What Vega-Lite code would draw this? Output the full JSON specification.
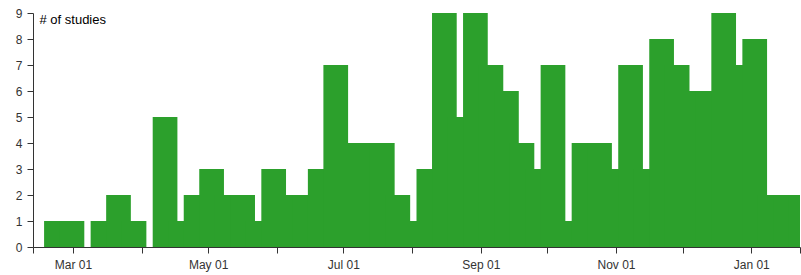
{
  "$schema": "https://vega.github.io/schema/vega-lite/v6.json",
  "width": 767,
  "height": 234,
  "autosize": {"type": "none"},
  "padding": {"left": 33, "top": 13, "right": 1, "bottom": 28},
  "background": "white",
  "config": {
    "view": {"stroke": null},
    "font": "Liberation Sans",
    "axis": {
      "labelFont": "Liberation Sans",
      "labelFontSize": 12,
      "labelColor": "#333",
      "domainColor": "#333",
      "tickColor": "#333",
      "tickSize": 6,
      "grid": false
    }
  },
  "data": {
    "values": [
      {"week": "2014-02-16", "count": 1},
      {"week": "2014-02-23", "count": 1},
      {"week": "2014-03-02", "count": 0},
      {"week": "2014-03-09", "count": 1},
      {"week": "2014-03-16", "count": 2},
      {"week": "2014-03-23", "count": 1},
      {"week": "2014-03-30", "count": 0},
      {"week": "2014-04-06", "count": 5},
      {"week": "2014-04-13", "count": 1},
      {"week": "2014-04-20", "count": 2},
      {"week": "2014-04-27", "count": 3},
      {"week": "2014-05-04", "count": 2},
      {"week": "2014-05-11", "count": 2},
      {"week": "2014-05-18", "count": 1},
      {"week": "2014-05-25", "count": 3},
      {"week": "2014-06-01", "count": 2},
      {"week": "2014-06-08", "count": 2},
      {"week": "2014-06-15", "count": 3},
      {"week": "2014-06-22", "count": 7},
      {"week": "2014-06-29", "count": 4},
      {"week": "2014-07-06", "count": 4},
      {"week": "2014-07-13", "count": 4},
      {"week": "2014-07-20", "count": 2},
      {"week": "2014-07-27", "count": 1},
      {"week": "2014-08-03", "count": 3},
      {"week": "2014-08-10", "count": 9},
      {"week": "2014-08-17", "count": 5},
      {"week": "2014-08-24", "count": 9},
      {"week": "2014-08-31", "count": 7},
      {"week": "2014-09-07", "count": 6},
      {"week": "2014-09-14", "count": 4},
      {"week": "2014-09-21", "count": 3},
      {"week": "2014-09-28", "count": 7},
      {"week": "2014-10-05", "count": 1},
      {"week": "2014-10-12", "count": 4},
      {"week": "2014-10-19", "count": 4},
      {"week": "2014-10-26", "count": 3},
      {"week": "2014-11-02", "count": 7},
      {"week": "2014-11-09", "count": 3},
      {"week": "2014-11-16", "count": 8},
      {"week": "2014-11-23", "count": 7},
      {"week": "2014-11-30", "count": 6},
      {"week": "2014-12-07", "count": 6},
      {"week": "2014-12-14", "count": 9},
      {"week": "2014-12-21", "count": 7},
      {"week": "2014-12-28", "count": 8},
      {"week": "2015-01-04", "count": 2},
      {"week": "2015-01-11", "count": 2},
      {"week": "2015-01-18", "count": 2}
    ]
  },
  "mark": {"type": "bar", "width": 24.7, "xOffset": 12.35, "color": "#2ca02c", "clip": true},
  "encoding": {
    "x": {
      "field": "week",
      "type": "temporal",
      "scale": {
        "type": "utc",
        "domain": [
          {"year": 2014, "month": 2, "date": 11, "utc": true},
          {"year": 2015, "month": 1, "date": 23, "utc": true}
        ],
        "nice": false,
        "padding": 0
      },
      "axis": {
        "title": null,
        "values": [
          {"year": 2014, "month": 2, "date": 11, "utc": true},
          {"year": 2014, "month": 3, "date": 1, "utc": true},
          {"year": 2014, "month": 4, "date": 1, "utc": true},
          {"year": 2014, "month": 5, "date": 1, "utc": true},
          {"year": 2014, "month": 6, "date": 1, "utc": true},
          {"year": 2014, "month": 7, "date": 1, "utc": true},
          {"year": 2014, "month": 8, "date": 1, "utc": true},
          {"year": 2014, "month": 9, "date": 1, "utc": true},
          {"year": 2014, "month": 10, "date": 1, "utc": true},
          {"year": 2014, "month": 11, "date": 1, "utc": true},
          {"year": 2014, "month": 12, "date": 1, "utc": true},
          {"year": 2015, "month": 1, "date": 1, "utc": true},
          {"year": 2015, "month": 1, "date": 23, "utc": true}
        ],
        "labelExpr": "utcmonth(datum.value) % 2 == 0 && utcdate(datum.value) == 1 ? utcFormat(datum.value, '%b %d') : ''",
        "labelPadding": 6,
        "labelFlush": false,
        "labelOverlap": false
      }
    },
    "y": {
      "field": "count",
      "type": "quantitative",
      "scale": {"domain": [0, 9], "nice": false},
      "axis": {
        "values": [0, 1, 2, 3, 4, 5, 6, 7, 8, 9],
        "labelPadding": 5,
        "title": "# of studies",
        "titleAngle": 0,
        "titleX": 6,
        "titleY": 10,
        "titleAlign": "left",
        "titleBaseline": "alphabetic",
        "titleFont": "Liberation Sans",
        "titleFontSize": 13,
        "titleFontWeight": "normal",
        "titleColor": "#000"
      }
    }
  }
}
